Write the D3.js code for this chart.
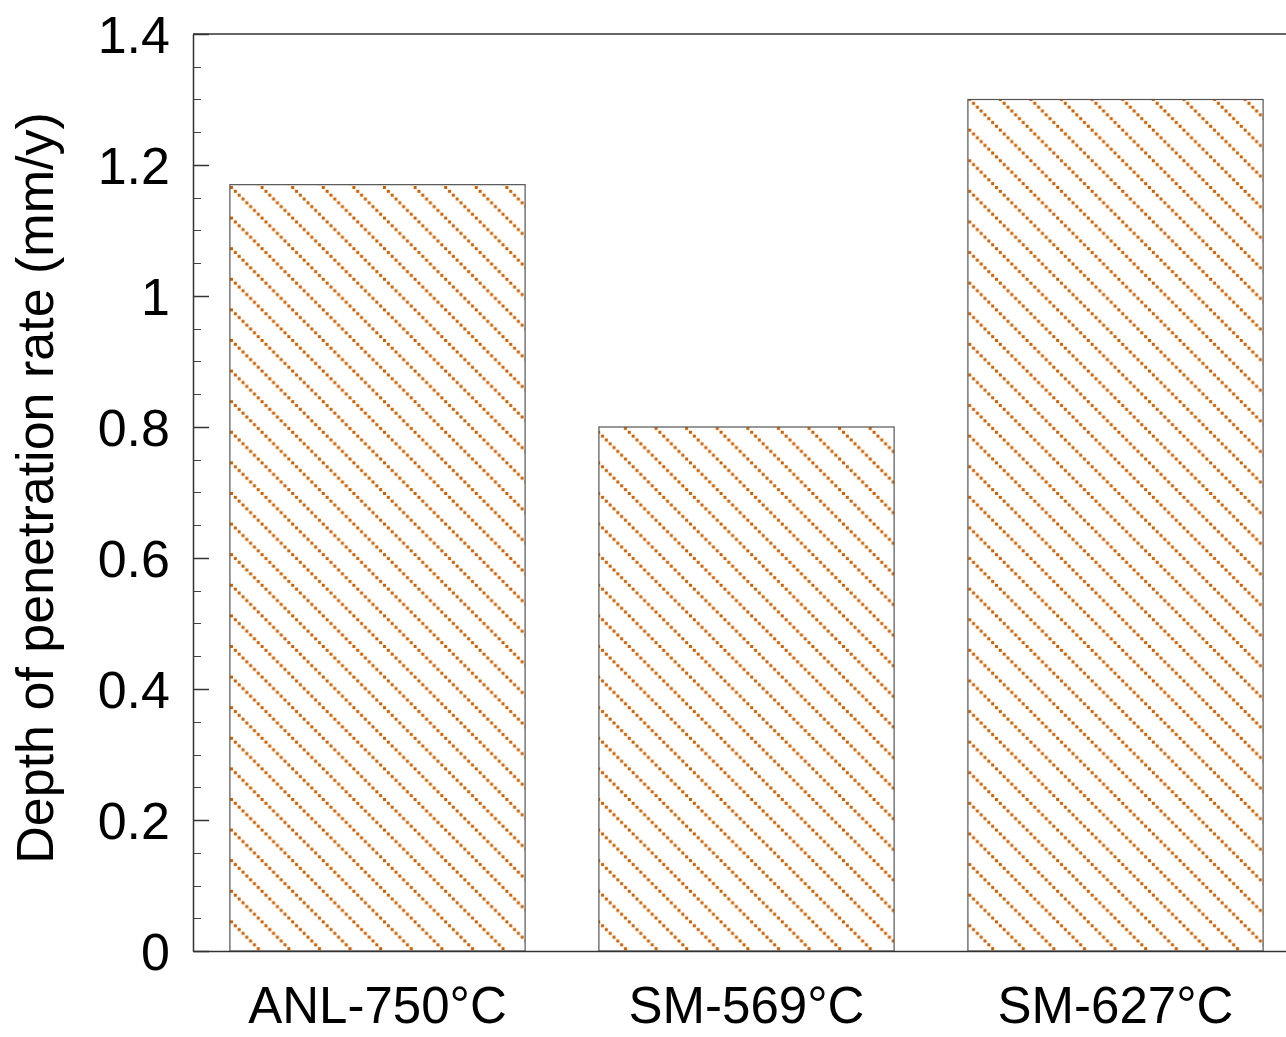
<!DOCTYPE html>
<html>
<head>
<meta charset="utf-8">
<script src="https://cdn.jsdelivr.net/npm/d3@7"></script>
<style>
  body { margin: 0; background: #fff; }
  svg { display: block; font-family: "Liberation Sans", Arial, sans-serif; }
  .axis text { fill: #000; font-size: 52px; }
  .axis path, .axis line { stroke: #333; stroke-width: 1.5px; }
</style>
</head>
<body>
<div id="chart"></div>
<script>
const categories = ["ANL-750°C", "SM-569°C", "SM-627°C"];
const values = [1.17, 0.80, 1.30];
const yTicks = [0, 0.2, 0.4, 0.6, 0.8, 1.0, 1.2, 1.4];
const yLabel = "Depth of penetration rate (mm/y)";

const width = 1286, height = 1037;
const margin = { top: 34, right: -14, bottom: 86, left: 193 };

const svg = d3.select("#chart").append("svg")
  .attr("width", width)
  .attr("height", height);

// dotted diagonal hatch: square dots stepping down-right
const period = 30.6, steps = 8;
const pat = svg.append("defs").append("pattern")
  .attr("id", "hatch")
  .attr("patternUnits", "userSpaceOnUse")
  .attr("x", 230).attr("y", 186)
  .attr("width", period)
  .attr("height", period);
pat.selectAll("rect")
  .data(d3.range(steps))
  .join("rect")
  .attr("x", k => k * period / steps)
  .attr("y", k => k * period / steps)
  .attr("width", 3)
  .attr("height", 3)
  .attr("fill", "#cc5f00");

const x = d3.scaleBand()
  .domain(categories)
  .range([margin.left, width - margin.right])
  .paddingInner(0.2)
  .paddingOuter(0.1);

const y = d3.scaleLinear()
  .domain([0, 1.4])
  .range([height - margin.bottom, margin.top]);

// bars
svg.append("g").selectAll("rect")
  .data(categories)
  .join("rect")
  .attr("x", d => x(d))
  .attr("y", (d, i) => y(values[i]))
  .attr("width", x.bandwidth())
  .attr("height", (d, i) => y(0) - y(values[i]))
  .attr("fill", "url(#hatch)")
  .attr("stroke", "#555")
  .attr("stroke-width", 1.2);

// top frame line
svg.append("line")
  .attr("x1", margin.left).attr("x2", width - margin.right)
  .attr("y1", margin.top).attr("y2", margin.top)
  .attr("stroke", "#333").attr("stroke-width", 1.5);

// minor ticks
const minor = d3.range(0, 1.4001, 0.05);
svg.append("g").selectAll("line")
  .data(minor)
  .join("line")
  .attr("x1", margin.left).attr("x2", margin.left + 8)
  .attr("y1", d => Math.round(y(d)) + 0.5).attr("y2", d => Math.round(y(d)) + 0.5)
  .attr("stroke", "#444").attr("stroke-width", 1);

// y axis
svg.append("g")
  .attr("class", "axis")
  .attr("transform", `translate(${margin.left},0)`)
  .call(d3.axisLeft(y).tickValues(yTicks).tickSizeInner(-16).tickSizeOuter(0)
    .tickPadding(23).tickFormat(d => d3.format("")(+d.toFixed(1))))
  .call(g => g.selectAll("text").attr("dy", "0.36em"));

// x axis
svg.append("g")
  .attr("class", "axis")
  .attr("transform", `translate(0,${height - margin.bottom})`)
  .call(d3.axisBottom(x).tickSize(0).tickPadding(36))
  .call(g => g.selectAll("text").attr("dy", "0.71em").style("font-size", "51px"));

// y label
svg.append("text")
  .attr("transform", `translate(53,488) rotate(-90)`)
  .attr("text-anchor", "middle")
  .attr("font-size", 52)
  .attr("fill", "#000")
  .text(yLabel);
</script>
</body>
</html>
